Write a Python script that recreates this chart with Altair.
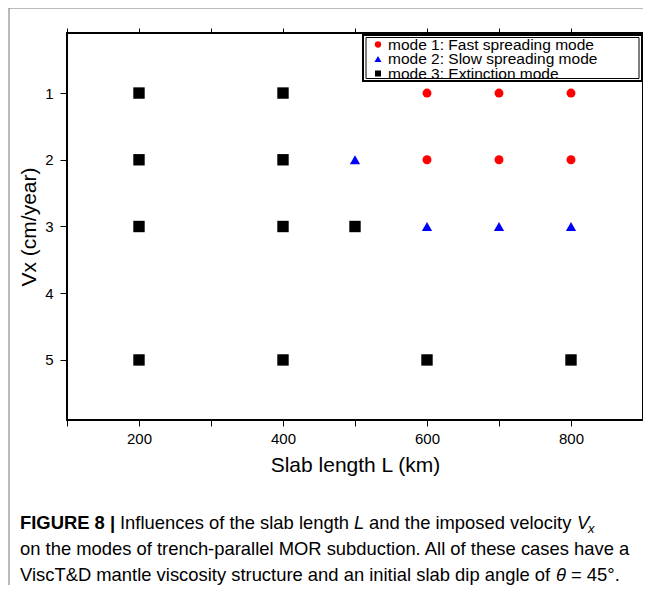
import altair as alt
import pandas as pd

# ---- data ----
slab_length_km = [200, 200, 200, 200, 400, 400, 400, 400, 500, 500,
                  600, 600, 600, 600, 700, 700, 700, 800, 800, 800, 800]
vx_cm_per_year = [1, 2, 3, 5, 1, 2, 3, 5, 2, 3,
                  1, 2, 3, 5, 1, 2, 3, 1, 2, 3, 5]
mode_id = [3, 3, 3, 3, 3, 3, 3, 3, 2, 3,
           1, 1, 2, 3, 1, 1, 2, 1, 1, 2, 3]
mode_labels = ["mode 1: Fast spreading mode",
               "mode 2: Slow spreading mode",
               "mode 3: Extinction mode"]
mode_colors = ["#ff0000", "#0000ff", "#000000"]
mode_shapes = ["circle", "triangle-up", "square"]
x_ticks = [100, 200, 300, 400, 500, 600, 700, 800, 900]
y_ticks = [1, 2, 3, 4, 5]

df = pd.DataFrame({
    "L": slab_length_km,
    "Vx": vx_cm_per_year,
    "mode": [mode_labels[m - 1] for m in mode_id],
})

W, H = 576, 387
FONT = "Liberation Sans"

xscale = alt.Scale(domain=[100, 900], nice=False, zero=False)
yscale = alt.Scale(domain=[0.1, 5.9], reverse=True, nice=False, zero=False)

points = alt.Chart(df).mark_point(filled=True, opacity=1).encode(
    x=alt.X("L:Q", scale=xscale,
            axis=alt.Axis(orient="bottom", values=x_ticks, title="Slab length L (km)",
                          labelExpr="datum.value % 200 == 0 ? datum.label : ''",
                          grid=False, domain=False, tickSize=6, tickWidth=1,
                          tickColor="black", labelFontSize=15, labelColor="black",
                          labelPadding=5, titleFontSize=21, titleFontWeight="normal",
                          titleColor="black", titlePadding=8,
                          labelFont=FONT, titleFont=FONT)),
    y=alt.Y("Vx:Q", scale=yscale,
            axis=alt.Axis(values=y_ticks, title="Vx (cm/year)", format="d",
                          grid=False, domain=False, tickSize=7, tickWidth=1,
                          tickColor="black", labelFontSize=15, labelColor="black",
                          labelPadding=7, titleFontSize=21, titleFontWeight="normal",
                          titleColor="black", titlePadding=5,
                          labelFont=FONT, titleFont=FONT)),
    color=alt.Color("mode:N", scale=alt.Scale(domain=mode_labels, range=mode_colors), legend=None),
    shape=alt.Shape("mode:N", scale=alt.Scale(domain=mode_labels, range=mode_shapes), legend=None),
    size=alt.Size("mode:N", scale=alt.Scale(domain=mode_labels, range=[80, 130, 100]), legend=None),
)

# top axis ticks (no labels)
top_ticks = alt.Chart(pd.DataFrame({"L": x_ticks})).mark_tick(opacity=0).encode(
    x=alt.X("L:Q", scale=xscale,
            axis=alt.Axis(orient="top", values=x_ticks, labels=False, title=None,
                          grid=False, domain=False, tickSize=5, tickColor="black")),
)

# legend box (double border) and entries
one = pd.DataFrame({"a": [0]})
legend_layers = [
    alt.Chart(one).mark_rect(fill="white", stroke="black", strokeWidth=2).encode(
        x=alt.value(296), x2=alt.value(575), y=alt.value(2), y2=alt.value(48)),
    alt.Chart(one).mark_rect(fill=None, stroke="black", strokeWidth=1).encode(
        x=alt.value(299), x2=alt.value(572), y=alt.value(4.5), y2=alt.value(45.5)),
]
for i, lab in enumerate(mode_labels):
    row = pd.DataFrame({"mode": [lab]})
    legend_layers.append(
        alt.Chart(row).mark_point(filled=True, opacity=1, shape=mode_shapes[i],
                                  color=mode_colors[i], size=[40, 50, 36][i]).encode(
            x=alt.value(311), y=alt.value(11.5 + 14.5 * i)))
    legend_layers.append(
        alt.Chart(row).mark_text(align="left", baseline="middle", font=FONT,
                                 fontSize=15.5, color="black").encode(
            x=alt.value(321), y=alt.value(11.5 + 14.5 * i), text="mode:N"))

# caption (figure text)
CAP = 18.4
def cap_text(txt, x, y, weight="normal", style="normal", size=CAP):
    return alt.Chart(one).mark_text(align="left", baseline="alphabetic", font=FONT,
                                    fontSize=size, fontWeight=weight, fontStyle=style,
                                    color="black").encode(
        x=alt.value(x), y=alt.value(y), text=alt.value(txt))

caption_layers = [
    cap_text("FIGURE 8 |", -47, 496, weight="bold"),
    cap_text("Influences of the slab length", 53, 496),
    cap_text("L", 287, 496, style="italic"),
    cap_text("and the imposed velocity", 302, 496),
    cap_text("V", 510, 496, style="italic"),
    cap_text("x", 521, 500, style="italic", size=13),
    cap_text("on the modes of trench-parallel MOR subduction. All of these cases have a", -47, 522),
    cap_text("ViscT&D mantle viscosity structure and an initial slab dip angle of", -47, 548),
    cap_text("θ", 489, 548, style="italic"),
    cap_text("= 45°.", 504, 548),
]

# outer page frame lines
frame_layers = [
    alt.Chart(one).mark_rule(color="#777777", strokeWidth=1).encode(
        x=alt.value(-58), y=alt.value(-25), y2=alt.value(570)),
    alt.Chart(one).mark_rule(color="#777777", strokeWidth=1).encode(
        x=alt.value(-58), x2=alt.value(600), y=alt.value(-25)),
]

chart = alt.layer(points, top_ticks, *legend_layers, *caption_layers, *frame_layers).resolve_axis(
    x="independent"
).properties(
    width=W, height=H,
    autosize=alt.AutoSizeParams(type="none"),
    padding={"left": 59, "top": 25, "right": 0, "bottom": 165},
).configure_view(stroke="black", strokeWidth=2).configure_axis(labelFont=FONT, titleFont=FONT)

chart.save("out.html", embed_options={"renderer": "svg", "actions": False})
